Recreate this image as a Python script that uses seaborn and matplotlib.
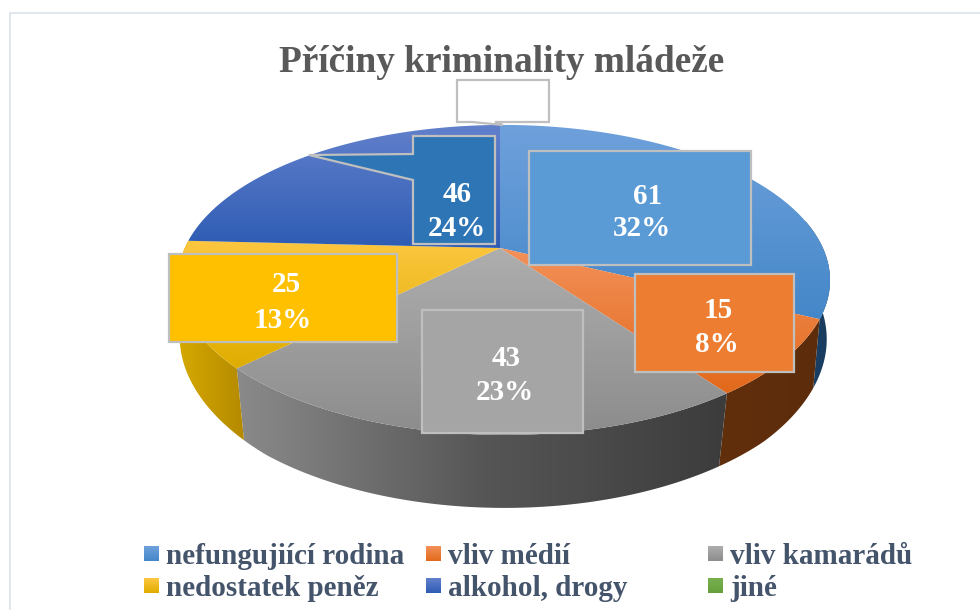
import numpy as np
import matplotlib
matplotlib.use("Agg")
import matplotlib.pyplot as plt
from matplotlib.colors import to_rgb
from matplotlib.patches import Polygon, Rectangle
import seaborn as sns

title = "Příčiny kriminality mládeže"
categories = ["nefungujiící rodina", "vliv médií", "vliv kamarádů",
              "nedostatek peněz", "alkohol, drogy", "jiné"]
values = [61, 15, 43, 25, 46, 0]

sns.set_theme(style="white")
plt.rcParams["font.family"] = ["Liberation Serif", "DejaVu Serif"]
label_fill = sns.color_palette(["#5B9BD5", "#ED7D31", "#A5A5A5", "#FFC000", "#2E75B6", "#FFFFFF"])

# projection of the pie disc
CX, CY, RX, RY, K, M = 500, 248, 319, 148.4, 0.206, 0.012
DEPTH, MAXD = 62, 73

face_grad = [("#6FA1DC", "#4487C8"), ("#F3915A", "#E2691B"), ("#AEAEAE", "#8C8C8C"),
             ("#FCC740", "#DFAD00"), ("#6280CC", "#2E5CB3")]
side_grad = [["#1C4368", "#183A5C"], ["#622F0C", "#5C2C0B"], ["#8A8A8A", "#565656", "#3C3C3C"],
             ["#D6AA00", "#B48900"], None]
legend_grad = face_grad + [("#78B050", "#66A03C")]


def rim(frac):
    a = 2 * np.pi * np.asarray(frac)
    u, v = np.sin(a), np.cos(a)
    w = 1 + K * v - M * u
    return CX + RX * u / w, CY - RY * v / w, w


def gradient(ax, verts, stops, vertical=True, z=2):
    verts = np.asarray(verts)
    poly = Polygon(verts, closed=True, fc="none", ec="none", zorder=z)
    ax.add_patch(poly)
    t = np.linspace(0, 1, 256)
    rgb = np.array([to_rgb(c) for c in stops])
    ramp = np.stack([np.interp(t, np.linspace(0, 1, len(stops)), rgb[:, i]) for i in range(3)], -1)
    arr = ramp[:, None, :] if vertical else ramp[None, :, :]
    x0, y0 = verts.min(0)
    x1, y1 = verts.max(0)
    im = ax.imshow(arr, extent=(x0, x1, y1, y0), aspect="auto", zorder=z, interpolation="bilinear")
    im.set_clip_path(poly)


fig = plt.figure(figsize=(9.8, 6.1), dpi=100, facecolor="white")
ax = fig.add_axes([0, 0, 1, 1])
ax.set_xlim(0, 980)
ax.set_ylim(610, 0)
ax.autoscale(False)
ax.axis("off")

# chart frame
ax.plot([10, 10, 980], [610, 13, 13], color="#DCE3EC", lw=1.2, zorder=1)

total = sum(values)
edges = np.cumsum([0] + values) / total

# sides, front half only
for i, stops in enumerate(side_grad):
    if stops is None:
        continue
    lo, hi = max(edges[i], 0.22), min(edges[i + 1], 0.78)
    f = np.linspace(lo, hi, 120)
    x, y, w = rim(f)
    xb = CX + (1 - 0.2 * (1 - w)) * (x - CX)
    yb = y + np.minimum(DEPTH / w, MAXD)
    verts = np.r_[np.c_[x, y], np.c_[xb, yb][::-1]]
    gradient(ax, verts, stops, vertical=False, z=2)

# top faces
for i in range(5):
    f = np.linspace(edges[i], edges[i + 1], 160)
    x, y, _ = rim(f)
    verts = np.r_[[[CX, CY]], np.c_[x, y]]
    gradient(ax, verts, face_grad[i], vertical=True, z=3)

EDGE = "#BFBFBF"
LW = 1.6
boxes = [(529, 151, 751, 265), (635, 274, 794, 372), (422, 310, 583, 433),
         (169, 254, 397, 342)]
for i, (l, t, r, b) in enumerate(boxes):
    ax.add_patch(Rectangle((l, t), r - l, b - t, fc=label_fill[i], ec=EDGE, lw=LW, zorder=5))

# callouts
ax.add_patch(Polygon([(413, 136), (495, 136), (495, 244), (413, 244), (413, 180), (309, 155), (413, 154)],
                     closed=True, fc=label_fill[4], ec=EDGE, lw=LW, zorder=5))
ax.add_patch(Polygon([(457, 80), (549, 80), (549, 122), (495, 122), (503, 125), (472, 122), (457, 122)],
                     closed=True, fc=label_fill[5], ec=EDGE, lw=LW, zorder=5))

# data labels
label_pos = [((648, 196), (642, 229)), ((718, 310), (717, 344)), ((506, 358), (505, 392)),
             ((286, 285), (283, 320)), ((457, 195), (457, 228))]
for i, (p_val, p_pct) in enumerate(label_pos):
    pct = round(100 * values[i] / total)
    ax.text(*p_val, str(values[i]), color="white", fontsize=21, fontweight="bold",
            ha="center", va="center", zorder=6)
    ax.text(*p_pct, f"{pct}%", color="white", fontsize=21, fontweight="bold",
            ha="center", va="center", zorder=6)

ax.text(502, 62, title, color="#595959", fontsize=26.8, fontweight="bold",
        ha="center", va="center", zorder=6)

# legend
col_x = [144, 426, 708]
row_y = [546, 578]
for i, name in enumerate(categories):
    x0, y0 = col_x[i % 3], row_y[i // 3]
    gradient(ax, [(x0, y0), (x0 + 15, y0), (x0 + 15, y0 + 15), (x0, y0 + 15)], legend_grad[i], z=4)
    ax.text(x0 + 22, y0 + 10, name, color="#44546A", fontsize=21, fontweight="bold",
            ha="left", va="center", zorder=6)

fig.savefig("out.png", dpi=100, facecolor="white")
